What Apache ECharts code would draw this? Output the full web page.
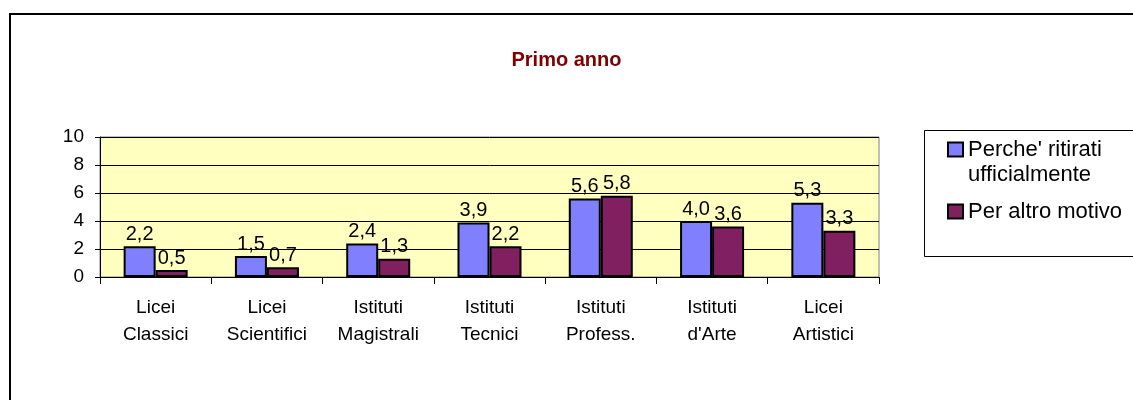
<!DOCTYPE html>
<html>
<head>
<meta charset="utf-8">
<script src="https://cdn.jsdelivr.net/npm/echarts@6/dist/echarts.min.js"></script>
<style>
  html, body { margin: 0; padding: 0; background: #fff; }
  #chart { width: 1133px; height: 400px; }
</style>
</head>
<body>
<div id="chart"></div>
<script>
var categories = ['Licei\nClassici', 'Licei\nScientifici', 'Istituti\nMagistrali', 'Istituti\nTecnici',
    'Istituti\nProfess.', "Istituti\nd'Arte", 'Licei\nArtistici'];
var ritirati = [2.2, 1.5, 2.4, 3.9, 5.6, 4.0, 5.3];
var altroMotivo = [0.5, 0.7, 1.3, 2.2, 5.8, 3.6, 3.3];
var seriesNames = ["Perche' ritirati\nufficialmente", 'Per altro motivo'];
var yTicks = [0, 2, 4, 6, 8, 10];

var FONT = 'Arial, Liberation Sans, sans-serif';
var myChart = echarts.init(document.getElementById('chart'));

function commaLabel(p) {
    return p.value.toFixed(1).replace('.', ',');
}

var option = {
    animation: false,
    textStyle: {fontFamily: FONT},
    graphic: [
        // cornice esterna
        {
            type: 'rect', left: 9, top: 13, z: -10,
            shape: {width: 1200, height: 500},
            style: {fill: '#fff', stroke: '#000', lineWidth: 2}
        },
        // riquadro legenda
        {
            type: 'rect', left: 924, top: 130, z: -5,
            shape: {width: 300, height: 126},
            style: {fill: '#fff', stroke: '#000', lineWidth: 1}
        }
    ],
    title: {
        text: 'Primo anno', left: 'center', top: 45,
        textStyle: {color: '#800000', fontSize: 20, fontWeight: 'bold', fontFamily: FONT}
    },
    legend: {
        orient: 'vertical', left: 947, top: 112,
        padding: 0, itemWidth: 15, itemHeight: 14, itemGap: 12,
        icon: 'rect',
        textStyle: {fontSize: 22, color: '#000', lineHeight: 25, fontFamily: FONT},
        // riga vuota in testa: l'icona resta allineata alla prima riga
        formatter: function (name) {
            return name.indexOf('\n') >= 0 ? '\n' + name : name;
        },
        data: seriesNames
    },
    grid: {
        left: 100, top: 137, right: 254, bottom: 123,
        show: true, backgroundColor: '#FFFFC0', borderColor: '#808080', borderWidth: 1
    },
    xAxis: {
        type: 'category', data: categories,
        axisLine: {lineStyle: {color: '#000', width: 1}},
        axisTick: {show: true, length: 7, lineStyle: {color: '#000'}},
        axisLabel: {color: '#000', fontSize: 19, lineHeight: 27, margin: 17, interval: 0, fontFamily: FONT}
    },
    yAxis: {
        type: 'value', min: 0, max: 10, interval: 2,
        axisLine: {show: true, lineStyle: {color: '#000'}},
        axisTick: {show: true, length: 5, lineStyle: {color: '#000'}},
        axisLabel: {color: '#000', fontSize: 19, margin: 16, fontFamily: FONT,
            formatter: function (v) { return yTicks.indexOf(v) >= 0 ? String(v) : ''; }},
        splitLine: {show: true, lineStyle: {color: '#000', width: 1}}
    },
    series: [
        {
            name: seriesNames[0], type: 'bar', data: ritirati,
            barWidth: 32, barGap: '0%',
            itemStyle: {color: '#8080FF', borderColor: '#000', borderWidth: 2},
            label: {show: true, position: 'top', distance: 2, fontSize: 20, color: '#000',
                fontFamily: FONT, formatter: commaLabel}
        },
        {
            name: seriesNames[1], type: 'bar', data: altroMotivo,
            barWidth: 32, barGap: '0%',
            itemStyle: {color: '#802060', borderColor: '#000', borderWidth: 2},
            label: {show: true, position: 'top', distance: 2, fontSize: 20, color: '#000',
                fontFamily: FONT, formatter: commaLabel}
        }
    ]
};
myChart.setOption(option, true);
</script>
</body>
</html>
